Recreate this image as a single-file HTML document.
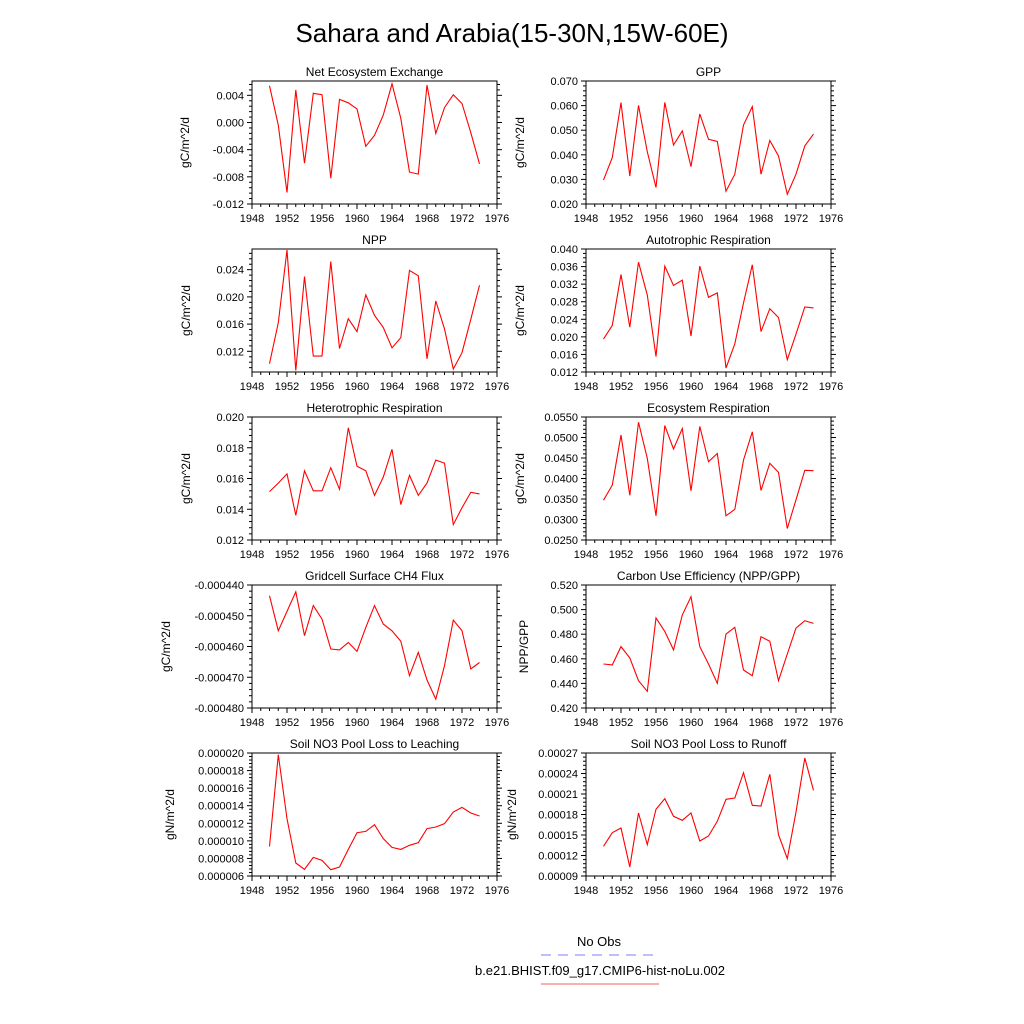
<!DOCTYPE html>
<html><head><meta charset="utf-8"><style>
html,body{margin:0;padding:0;background:#fff}
svg{display:block;font-family:"Liberation Sans",Arial,sans-serif}
</style></head><body>
<svg id="chart" width="1024" height="1024" viewBox="0 0 1024 1024" xmlns="http://www.w3.org/2000/svg">
<rect width="1024" height="1024" fill="#fff"/>
<text x="512" y="42" font-size="26" text-anchor="middle">Sahara and Arabia(15-30N,15W-60E)</text>
<g id="panels"></g>
<g>
<text x="599" y="946" font-size="13" text-anchor="middle">No Obs</text>
<line x1="541" y1="955" x2="659" y2="955" stroke="#7f7fff" stroke-width="1" stroke-dasharray="10,7"/>
<text x="600" y="975" font-size="13" text-anchor="middle">b.e21.BHIST.f09_g17.CMIP6-hist-noLu.002</text>
<line x1="541" y1="984" x2="659" y2="984" stroke="#f06060" stroke-width="1"/>
</g>
</svg>
<script>
const years = [1950,1951,1952,1953,1954,1955,1956,1957,1958,1959,1960,1961,1962,1963,1964,1965,1966,1967,1968,1969,1970,1971,1972,1973,1974];
const xTickLabels = [1948,1952,1956,1960,1964,1968,1972,1976];

const neeValues = [0.0054,-0.0004,-0.0103,0.0048,-0.0060,0.0043,0.0041,-0.0082,0.0034,0.0029,0.0020,-0.0035,-0.0019,0.0011,0.0057,0.0006,-0.0073,-0.0076,0.0055,-0.0016,0.0022,0.0041,0.0028,-0.0015,-0.0061];
const neeTicks = ["0.004","0.000","-0.004","-0.008","-0.012"];
const gppValues = [0.0297,0.0389,0.0612,0.0314,0.0601,0.0412,0.0267,0.0613,0.0440,0.0497,0.0352,0.0566,0.0463,0.0454,0.0252,0.0321,0.0521,0.0596,0.0321,0.0458,0.0395,0.0240,0.0321,0.0436,0.0484];
const gppTicks = ["0.070","0.060","0.050","0.040","0.030","0.020"];
const nppValues = [0.0102,0.0162,0.0269,0.0092,0.0230,0.0113,0.0113,0.0252,0.0124,0.0168,0.0149,0.0203,0.0173,0.0155,0.0125,0.0140,0.0239,0.0231,0.0109,0.0194,0.0153,0.0094,0.0118,0.0167,0.0217];
const nppTicks = ["0.024","0.020","0.016","0.012"];
const arValues = [0.0195,0.0226,0.0342,0.0222,0.0370,0.0295,0.0155,0.0361,0.0317,0.0329,0.0202,0.0361,0.0290,0.0300,0.0129,0.0184,0.0277,0.0364,0.0212,0.0264,0.0244,0.0148,0.0206,0.0268,0.0266];
const arTicks = ["0.040","0.036","0.032","0.028","0.024","0.020","0.016","0.012"];
const hrValues = [0.01515,0.0157,0.0163,0.0136,0.0165,0.0152,0.0152,0.0167,0.0153,0.0193,0.0168,0.0165,0.0149,0.0161,0.0179,0.0143,0.0162,0.0149,0.0157,0.0172,0.0170,0.0130,0.0141,0.0151,0.0150];
const hrTicks = ["0.020","0.018","0.016","0.014","0.012"];
const erValues = [0.0347,0.0384,0.0506,0.0359,0.0537,0.0449,0.0309,0.0529,0.0472,0.0522,0.0370,0.0527,0.0441,0.0461,0.0309,0.0325,0.0445,0.0514,0.0371,0.0437,0.0415,0.0278,0.0348,0.0420,0.0419];
const erTicks = ["0.0550","0.0500","0.0450","0.0400","0.0350","0.0300","0.0250"];
const ch4Values = [-0.0004435,-0.0004549,-0.0004486,-0.0004422,-0.0004565,-0.0004467,-0.0004511,-0.0004608,-0.0004611,-0.0004587,-0.0004616,-0.0004538,-0.0004467,-0.0004527,-0.0004549,-0.0004583,-0.0004695,-0.0004619,-0.0004709,-0.0004771,-0.0004662,-0.0004514,-0.0004549,-0.0004673,-0.0004652];
const ch4Ticks = ["-0.000440","-0.000450","-0.000460","-0.000470","-0.000480"];
const cueValues = [0.4558,0.4550,0.4699,0.4607,0.4422,0.4336,0.4932,0.4823,0.4672,0.4956,0.5105,0.4699,0.4558,0.4401,0.4802,0.4856,0.4509,0.4463,0.4780,0.4742,0.4422,0.4639,0.4850,0.4910,0.4888];
const cueTicks = ["0.520","0.500","0.480","0.460","0.440","0.420"];
const leachValues = [0.00000937,0.00001981,0.00001252,0.00000748,0.00000676,0.00000812,0.00000778,0.00000672,0.00000702,0.00000903,0.00001093,0.00001108,0.00001184,0.00001025,0.00000926,0.00000903,0.00000949,0.00000979,0.00001139,0.00001158,0.00001195,0.00001328,0.00001381,0.00001317,0.00001283];
const leachTicks = ["0.000020","0.000018","0.000016","0.000014","0.000012","0.000010","0.000008","0.000006"];
const runoffValues = [0.0001334,0.0001534,0.0001602,0.0001032,0.0001822,0.0001359,0.0001876,0.0002032,0.0001773,0.0001715,0.0001822,0.0001412,0.0001485,0.0001700,0.0002022,0.0002041,0.0002412,0.0001934,0.0001924,0.0002388,0.0001505,0.0001154,0.0001837,0.0002627,0.0002154];
const runoffTicks = ["0.00027","0.00024","0.00021","0.00018","0.00015","0.00012","0.00009"];

const panels = [
 {id:"nee",title:"Net Ecosystem Exchange",yl:"gC/m^2/d",v:neeValues,t:neeTicks,top:81,col:0,ymin:-0.012,ymax:0.00611,tmax:0.004,step:0.004,minor:4,ylx:189},
 {id:"gpp",title:"GPP",yl:"gC/m^2/d",v:gppValues,t:gppTicks,top:81,col:1,ymin:0.02,ymax:0.07,tmax:0.07,step:0.01,minor:4,ylx:524},
 {id:"npp",title:"NPP",yl:"gC/m^2/d",v:nppValues,t:nppTicks,top:249,col:0,ymin:0.00896,ymax:0.02704,tmax:0.024,step:0.004,minor:4,ylx:190},
 {id:"ar",title:"Autotrophic Respiration",yl:"gC/m^2/d",v:arValues,t:arTicks,top:249,col:1,ymin:0.012,ymax:0.04,tmax:0.04,step:0.004,minor:3,ylx:524},
 {id:"hr",title:"Heterotrophic Respiration",yl:"gC/m^2/d",v:hrValues,t:hrTicks,top:417,col:0,ymin:0.012,ymax:0.02,tmax:0.02,step:0.002,minor:4,ylx:190},
 {id:"er",title:"Ecosystem Respiration",yl:"gC/m^2/d",v:erValues,t:erTicks,top:417,col:1,ymin:0.025,ymax:0.055,tmax:0.055,step:0.005,minor:4,ylx:524},
 {id:"ch4",title:"Gridcell Surface CH4 Flux",yl:"gC/m^2/d",v:ch4Values,t:ch4Ticks,top:585,col:0,ymin:-0.00048,ymax:-0.00044,tmax:-0.00044,step:0.00001,minor:4,ylx:170},
 {id:"cue",title:"Carbon Use Efficiency (NPP/GPP)",yl:"NPP/GPP",v:cueValues,t:cueTicks,top:585,col:1,ymin:0.42,ymax:0.52,tmax:0.52,step:0.02,minor:4,ylx:528},
 {id:"leach",title:"Soil NO3 Pool Loss to Leaching",yl:"gN/m^2/d",v:leachValues,t:leachTicks,top:753,col:0,ymin:0.000006,ymax:0.00002,tmax:0.00002,step:0.000002,minor:4,ylx:174},
 {id:"runoff",title:"Soil NO3 Pool Loss to Runoff",yl:"gN/m^2/d",v:runoffValues,t:runoffTicks,top:753,col:1,ymin:0.00009,ymax:0.00027,tmax:0.00027,step:0.00003,minor:4,ylx:516}
];
const NS="http://www.w3.org/2000/svg";
const H=123, LEFTS=[252,586], W=245, X0=1948, X1=1976;
function mk(tag,attrs,parent){const e=document.createElementNS(NS,tag);for(const k in attrs)e.setAttribute(k,attrs[k]);parent.appendChild(e);return e;}
const root=document.getElementById('panels');
panels.forEach(p=>{
  const L=LEFTS[p.col], T=p.top, B=T+H, R=L+W;
  const xs=y=>L+(y-X0)/(X1-X0)*W;
  const ys=v=>B-(v-p.ymin)/(p.ymax-p.ymin)*H;
  const g=mk('g',{},root);
  
  
  const tt=mk('text',{x:(L+R)/2,y:T-5,'font-size':12,'text-anchor':'middle'},g);
  tt.textContent=p.title;
  
  
  const fr=mk('rect',{x:L,y:T,width:W,height:H,fill:'none',stroke:'#000','stroke-width':1},g);
  
  
  // x ticks
  const xa=mk('g',{},g);
  
  
  for(let yr=X0;yr<=X1;yr++){const x=xs(yr);const major=(yr-X0)%4===0;
    mk('line',{x1:x,y1:B,x2:x,y2:B+(major?5:3),stroke:'#000','stroke-width':1},xa);}
  xTickLabels.forEach(yr=>{const t=mk('text',{x:xs(yr),y:B+18,'font-size':11,'text-anchor':'middle'},xa);t.textContent=yr;
    
    });
  // y ticks
  const ya=mk('g',{},g);
  
  
  p.t.forEach((lab,i)=>{const v=p.tmax-i*p.step;const y=ys(v);
    mk('line',{x1:L-5,y1:y,x2:L,y2:y,stroke:'#000'},ya);
    mk('line',{x1:R,y1:y,x2:R+5,y2:y,stroke:'#000'},ya);
    const t=mk('text',{x:L-8,y:y+4,'font-size':11,'text-anchor':'end'},ya);t.textContent=lab;
    
    
    for(let k=1;k<=p.minor;k++){const mv=v-k*p.step/(p.minor+1);if(mv<p.ymin-1e-12)break;const my=ys(mv);
      mk('line',{x1:L-3,y1:my,x2:L,y2:my,stroke:'#000'},ya);mk('line',{x1:R,y1:my,x2:R+3,y2:my,stroke:'#000'},ya);}
    if(i===0){for(let k=1;k<=p.minor;k++){const mv=v+k*p.step/(p.minor+1);if(mv>p.ymax+1e-12)break;const my=ys(mv);
      mk('line',{x1:L-3,y1:my,x2:L,y2:my,stroke:'#000'},ya);mk('line',{x1:R,y1:my,x2:R+3,y2:my,stroke:'#000'},ya);}}
  });
  const yt=mk('text',{x:p.ylx,y:(T+B)/2,'font-size':12,'text-anchor':'middle',transform:`rotate(-90 ${p.ylx} ${(T+B)/2})`},g);
  yt.textContent=p.yl;
  
  
  const pts=years.map((yr,i)=>xs(yr).toFixed(1)+','+ys(p.v[i]).toFixed(1)).join(' ');
  const ln=mk('polyline',{points:pts,fill:'none',stroke:'#ff0000','stroke-width':1.1},g);
  
  
});
</script>
</body></html>
